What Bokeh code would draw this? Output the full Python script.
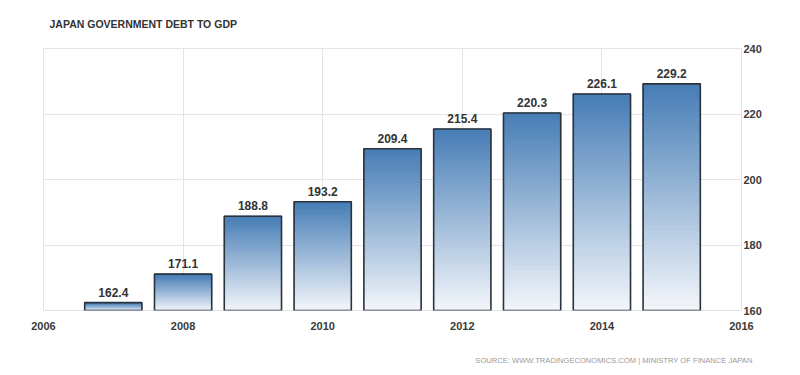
from bokeh.plotting import figure
from bokeh.models import ColumnDataSource, FixedTicker, Range1d, Title
from bokeh.embed import file_html
from bokeh.resources import INLINE
from bokeh.core.properties import value

# ---- data ----
years = [2007, 2008, 2009, 2010, 2011, 2012, 2013, 2014, 2015]
debt = [162.4, 171.1, 188.8, 193.2, 209.4, 215.4, 220.3, 226.1, 229.2]
x_ticks = [2006, 2008, 2010, 2012, 2014, 2016]
y_ticks = [160, 180, 200, 220, 240]
title_text = "JAPAN GOVERNMENT DEBT TO GDP"
source_text = "SOURCE: WWW.TRADINGECONOMICS.COM | MINISTRY OF FINANCE JAPAN"

BASE = 160
BAR_W = 0.82
N_SEG = 48
TOP_RGB = (0x47, 0x7d, 0xb6)
BOT_RGB = (0xf4, 0xf7, 0xfb)

p = figure(frame_width=698, frame_height=262,
           min_border_left=43, min_border_top=48, min_border_right=59, min_border_bottom=65,
           x_range=Range1d(2006, 2016), y_range=Range1d(160, 240),
           y_axis_location="right", output_backend="svg", toolbar_location=None,
           background_fill_color="white", border_fill_color="white")
p.outline_line_color = "#e4e4e4"
p.outline_line_width = 1

for g in (p.xgrid, p.ygrid):
    g.grid_line_color = "#e4e4e4"
    g.grid_line_width = 1
p.xaxis.ticker = FixedTicker(ticks=x_ticks)
p.yaxis.ticker = FixedTicker(ticks=y_ticks)
for ax in (p.xaxis, p.yaxis):
    ax.axis_line_color = None
    ax.major_tick_line_color = None
    ax.minor_tick_line_color = None
    ax.major_tick_out = 0
    ax.major_tick_in = 0
    ax.minor_tick_out = 0
    ax.minor_tick_in = 0
    ax.major_label_text_font = "Liberation Sans"
    ax.major_label_text_font_style = "bold"
    ax.major_label_text_font_size = "11px"
    ax.major_label_text_color = "#3a3a3a"
p.xaxis.major_label_standoff = 11
p.yaxis.major_label_standoff = 2
# invisible axis label used only as spacing before the source line
p.xaxis.axis_label = " "
p.xaxis.axis_label_text_font_size = "10px"
p.xaxis.axis_label_standoff = 6

# gradient bars built from stacked segments
left, right, bottom, top, colors = [], [], [], [], []
for yr, v in zip(years, debt):
    h = v - BASE
    for k in range(N_SEG):
        t = (k + 0.5) / N_SEG  # 0 bottom -> 1 top
        c = tuple(int(round(BOT_RGB[j] + (TOP_RGB[j] - BOT_RGB[j]) * t)) for j in range(3))
        left.append(yr - BAR_W / 2)
        right.append(yr + BAR_W / 2)
        bottom.append(BASE + h * k / N_SEG)
        top.append(BASE + h * (k + 1) / N_SEG)
        colors.append("#%02x%02x%02x" % c)
seg = ColumnDataSource(dict(left=left, right=right, bottom=bottom, top=top, color=colors))
p.quad(left="left", right="right", bottom="bottom", top="top", source=seg,
       fill_color="color", line_color="color", line_width=1)

bars = ColumnDataSource(dict(x=years, top=debt, lab=[f"{v:.1f}" for v in debt]))
p.vbar(x="x", top="top", bottom=BASE, width=BAR_W, source=bars,
       fill_alpha=0, line_color="#2a323c", line_width=1.6)
p.text(x="x", y="top", text="lab", source=bars, text_align="center", text_baseline="bottom",
       y_offset=-6, text_font=value("Liberation Sans"), text_font_style="bold",
       text_font_size="12px", text_color="#333333")

p.title.text = title_text
p.title.align = "left"
p.title.offset = 6
p.title.vertical_align = "top"
p.title.text_font = "Liberation Sans"
p.title.text_font_style = "bold"
p.title.text_font_size = "10.5px"
p.title.text_color = "#333333"
p.title.standoff = 34

p.add_layout(Title(text=source_text, align="right", offset=-11, text_font="Liberation Sans",
                   text_font_style="normal", text_font_size="7.6px", text_color="#999999",
                   standoff=2), "below")

open("out.html", "w").write(file_html(p, INLINE))
